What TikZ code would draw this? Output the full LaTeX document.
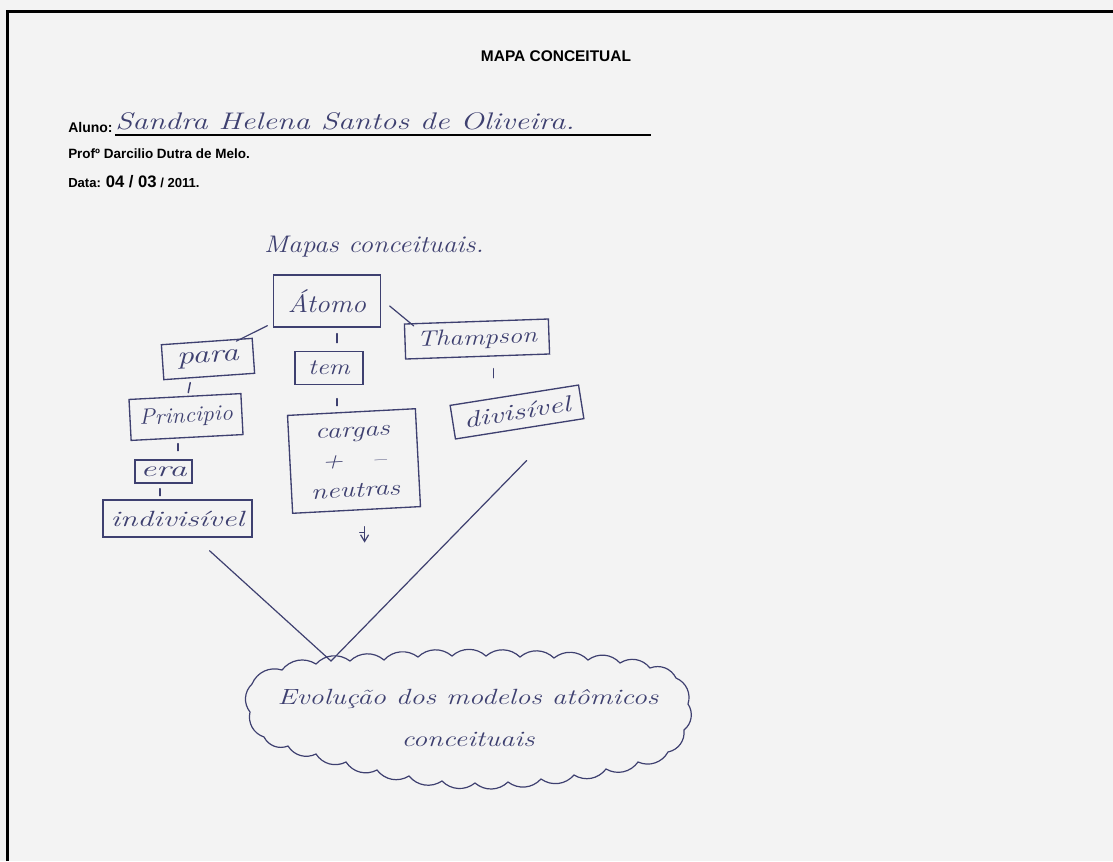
\documentclass[tikz,border=0pt]{standalone}
\usepackage{fontspec}
\usepackage{graphicx}
\newfontfamily\printfont{Liberation Sans}
\usetikzlibrary{calc,arrows.meta}
\definecolor{paper}{HTML}{F3F3F3}
\definecolor{ink}{RGB}{62,64,112}
\newcommand{\hw}[3]{\scalebox{#2}[1]{\fontsize{#1}{#1}\selectfont\itshape #3}}
\begin{document}
\begin{tikzpicture}[x=0.75pt,y=-0.75pt,
  hbox/.style={draw=ink, line width=1pt, inner sep=0pt, text=ink},
  sz/.style 2 args={minimum width=#1*0.75pt, minimum height=#2*0.75pt},
  ln/.style={draw=ink, line width=0.9pt, line cap=round},
  puff/.style={bend left=42},
  tick/.style={draw=ink, line width=1.1pt, line cap=round},
  print/.style={inner sep=0pt, text=black}]
\fill[paper] (0,0) rectangle (1113,861);
\useasboundingbox (0,0) rectangle (1113,861);
\draw[line width=1.9pt, line join=miter] (7.5,861) -- (7.5,11.5) -- (1113,11.5);

% header
\node[print, font={\printfont\bfseries\fontsize{11.6}{13}\selectfont}] (title) at (556,56) {MAPA CONCEITUAL};
\node[print, anchor=base west, font={\printfont\bfseries\fontsize{10.5}{12}\selectfont}] (aluno) at (68,132) {Aluno:};
\coordinate (ulend) at (651,135);
\draw[line width=0.9pt] ($(aluno.base east)+(2,3)$) -- (ulend);
\node[anchor=base west, inner sep=0pt, text=ink] (nome) at (115,129) {\hw{18}{1.3}{Sandra Helena Santos de Oliveira.}};
\node[print, anchor=base west, font={\printfont\bfseries\fontsize{10.1}{12}\selectfont}] (prof) at (68,158) {Profº Darcilio Dutra de Melo.};
\node[print, anchor=base west, font={\printfont\bfseries\fontsize{9.8}{12}\selectfont}] (data) at (68,187) {Data: {\fontsize{12.5}{13}\selectfont 04 / 03} / 2011.};

% handwritten map
\node[inner sep=0pt, text=ink] (mapas) at (374,247) {\hw{18}{1.14}{Mapas conceituais.}};

\node[hbox, sz={107}{52}] (atomo) at (327,301) {\hw{19}{1.1}{Átomo}};
\node[hbox, sz={91}{35}, rotate=4] (para) at (208,359) {\hw{19}{1.35}{para}};
\node[hbox, sz={68}{33}] (tem) at (329,368) {\hw{16.5}{1.2}{tem}};
\node[hbox, sz={144}{35}, rotate=2] (thompson) at (477,339) {\hw{16.5}{1.23}{Thampson}};
\node[hbox, sz={112}{41}, rotate=3] (principio) at (186,417) {\hw{16.5}{1.07}{Principio}};
\node[hbox, sz={130}{34}, rotate=9] (divisivel) at (517,412) {\hw{17}{1.4}{divisível}};
\node[hbox, sz={128}{98}, rotate=3] (cargas) at (354,461) {\scalebox{1.3}[1]{\fontsize{16.5}{22.5}\selectfont\itshape\begin{tabular}{@{}c@{}}cargas\\+\quad --\\neutras\end{tabular}}};
\node[hbox, sz={57}{23}] (era) at (163.5,471.5) {\hw{16.5}{1.6}{era}};
\node[hbox, sz={149}{37}] (indivisivel) at (177.5,518.5) {\hw{16.5}{1.43}{indivisível}};

% cloud
\draw[ln] (252,684)
  \foreach \cx/\cy in {282/670, 316/664, 350/661, 384/660, 418/657, 452/656, 486/656,
                       520/657, 554/658, 588/660, 620/663, 650/668, 676/678,
                       688/704, 684/730, 668/752,
                       638/762, 606/769, 574/775, 541/779, 508/782, 475/783,
                       442/781, 409/776, 377/770, 346/762, 316/754, 288/746, 264/737,
                       250/712} { to[puff] (\cx,\cy) } to[puff] (252,684);
\node[inner sep=0pt, text=ink] (cloudtext) at (468,717) {\scalebox{1.3}[1]{\fontsize{16.5}{31.5}\selectfont\itshape\begin{tabular}{@{}c@{}}Evolução dos modelos atômicos\\conceituais\end{tabular}}};

% connectors
\draw[ln] ($(atomo.south west)+(-5.5,-2)$) -- ($(para.north east)+(-16.5,3.5)$);
\draw[ln] ($(atomo.east)+(8.5,5)$) -- ($(thompson.north west)+(10,2.5)$);
\draw[tick] ($(atomo.south)+(10,6)$) -- ++(0,9);
\draw[tick] ($(tem.south)+(8,13.5)$) -- ++(0,7);
\draw[tick] ($(thompson.south)+(16,11.5)$) -- ++(0,9);
\draw[tick] ($(para.south)+(-19,5.5)$) -- ++(-2,10);
\draw[tick] ($(principio.south)+(-9,5.5)$) -- ++(0,7);
\draw[tick] ($(era.south)+(-3.5,5)$) -- ++(0,7);
\draw[ln, -{Straight Barb[length=5pt,width=6pt]}] ($(cargas.south)+(8,16)$) -- ++(0,16);
\draw[ln] ($(cargas.south)+(3,22)$) -- ++(5,0);

\coordinate (v) at (331,661);
\draw[ln] ($(indivisivel.south)+(32,13)$) -- (v) -- ($(divisivel.south)+(7,31)$);
\end{tikzpicture}
\end{document}
